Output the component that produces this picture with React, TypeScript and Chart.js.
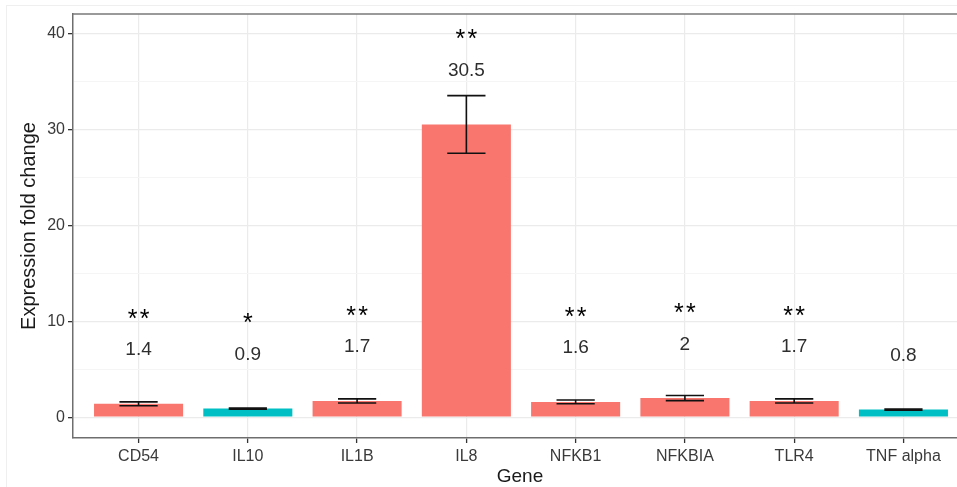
import React, { useEffect, useRef } from "react";
import { Chart, registerables } from "chart.js";

Chart.register(...registerables);

// ---- data ----
const genes = ["CD54", "IL10", "IL1B", "IL8", "NFKB1", "NFKBIA", "TLR4", "TNF alpha"];
const foldChange = [1.4, 0.9, 1.7, 30.5, 1.6, 2.0, 1.7, 0.8];
const errorSD = [0.2, 0.05, 0.22, 3.0, 0.2, 0.27, 0.22, 0.06];
const valueLabels = ["1.4", "0.9", "1.7", "30.5", "1.6", "2", "1.7", "0.8"];
const significance = ["**", "*", "**", "**", "**", "**", "**", ""];
const regulation = ["up", "down", "up", "up", "up", "up", "up", "down"];
const yTickValues = [0, 5, 10, 15, 20, 25, 30, 35, 40];

// ---- style ----
const UP_COLOR = "#F8766D";
const DOWN_COLOR = "#00BFC4";
const FONT = "'Liberation Sans', Arial, sans-serif";
const LABEL_OFFSET = 5.6; // value units above the mean
const STAR_OFFSET = 9.5;
const STAR_GAP = 12; // px between star centres

const CANVAS_W = 990;
const CANVAS_H = 487;

export default function App() {
  const ref = useRef<HTMLCanvasElement | null>(null);

  useEffect(() => {
    const canvas = ref.current;
    if (!canvas) return;

    const overlay = {
      id: "overlay",
      beforeDraw(chart: any) {
        const { ctx } = chart;
        ctx.save();
        ctx.fillStyle = "#ffffff";
        ctx.fillRect(0, 0, chart.width, chart.height);
        ctx.strokeStyle = "#efefef";
        ctx.lineWidth = 1;
        ctx.beginPath();
        ctx.moveTo(6.5, 5);
        ctx.lineTo(6.5, chart.height);
        ctx.moveTo(6, 5.5);
        ctx.lineTo(chart.width, 5.5);
        ctx.stroke();
        ctx.restore();
      },
      afterDatasetsDraw(chart: any) {
        const { ctx, chartArea } = chart;
        const x = chart.scales.x;
        const y = chart.scales.y;
        const step = x.getPixelForValue(1) - x.getPixelForValue(0);
        const capHalf = step * 0.175;
        ctx.save();
        // error bars
        ctx.strokeStyle = "#111111";
        ctx.lineWidth = 1.6;
        foldChange.forEach((v, i) => {
          const px = x.getPixelForValue(i);
          const top = y.getPixelForValue(v + errorSD[i]);
          const bot = y.getPixelForValue(v - errorSD[i]);
          ctx.beginPath();
          ctx.moveTo(px, top);
          ctx.lineTo(px, bot);
          ctx.moveTo(px - capHalf, top);
          ctx.lineTo(px + capHalf, top);
          ctx.moveTo(px - capHalf, bot);
          ctx.lineTo(px + capHalf, bot);
          ctx.stroke();
        });
        // value labels
        ctx.fillStyle = "#2e2e2e";
        ctx.font = `19px ${FONT}`;
        ctx.textAlign = "center";
        ctx.textBaseline = "middle";
        foldChange.forEach((v, i) => {
          ctx.fillText(valueLabels[i], x.getPixelForValue(i), y.getPixelForValue(v + LABEL_OFFSET));
        });
        // significance stars (each star drawn separately, spaced like the original)
        ctx.fillStyle = "#000000";
        ctx.font = `25px ${FONT}`;
        ctx.textBaseline = "alphabetic";
        foldChange.forEach((v, i) => {
          const s = significance[i];
          if (!s) return;
          const cx = x.getPixelForValue(i);
          const cy = y.getPixelForValue(v + STAR_OFFSET) + 14;
          const n = s.length;
          for (let k = 0; k < n; k++) {
            const dx = (k - (n - 1) / 2) * STAR_GAP;
            ctx.fillText("*", cx + dx, cy);
          }
        });
        // top/right panel border
        ctx.strokeStyle = "#7a7a7a";
        ctx.lineWidth = 1.5;
        ctx.beginPath();
        ctx.moveTo(chartArea.left, chartArea.top);
        ctx.lineTo(chartArea.right, chartArea.top);
        ctx.lineTo(chartArea.right, chartArea.bottom);
        ctx.stroke();
        // axis titles
        ctx.fillStyle = "#1a1a1a";
        ctx.font = `19px ${FONT}`;
        ctx.textAlign = "center";
        ctx.textBaseline = "middle";
        ctx.fillText("Gene", (chartArea.left + chartArea.right) / 2 - 1, 477);
        ctx.font = `20px ${FONT}`;
        ctx.translate(29, (chartArea.top + chartArea.bottom) / 2);
        ctx.rotate(-Math.PI / 2);
        ctx.fillText("Expression fold change", 0, 0);
        ctx.restore();
      },
    };

    const chart = new Chart(canvas, {
      type: "bar",
      data: {
        datasets: [
          {
            data: foldChange.map((v, i) => ({ x: i, y: v })),
            backgroundColor: regulation.map((r) => (r === "up" ? UP_COLOR : DOWN_COLOR)),
            borderWidth: 0,
            barPercentage: 0.815,
            categoryPercentage: 1,
          },
        ],
      },
      options: {
        responsive: false,
        animation: false,
        layout: { padding: { top: 14, right: CANVAS_W - 969, left: 0, bottom: 0 } },
        plugins: { legend: { display: false }, tooltip: { enabled: false } },
        scales: {
          x: {
            type: "linear",
            min: -0.6,
            max: genes.length - 0.4,
            offset: false,
            afterBuildTicks: (scale: any) => {
              scale.ticks = genes.map((_, i) => ({ value: i }));
            },
            afterFit: (scale: any) => {
              scale.height = CANVAS_H - 438;
            },
            ticks: {
              callback: (value: any) => genes[Math.round(Number(value))] ?? "",
              color: "#3a3a3a",
              font: { family: FONT, size: 16 },
              padding: 4,
              maxRotation: 0,
              autoSkip: false,
            },
            grid: {
              offset: false,
              color: "#ebebeb",
              lineWidth: 1.2,
              drawTicks: true,
              tickLength: 5,
              tickColor: "#333333",
              tickWidth: 1.3,
            },
            border: { display: true, color: "#6e6e6e", width: 1.5 },
          },
          y: {
            type: "linear",
            min: -2.16,
            max: 42.0,
            afterBuildTicks: (scale: any) => {
              scale.ticks = yTickValues.map((v) => ({ value: v }));
            },
            afterFit: (scale: any) => {
              scale.width = 73;
            },
            ticks: {
              callback: (value: any) => (Number(value) % 10 === 0 ? String(value) : ""),
              color: "#3a3a3a",
              font: { family: FONT, size: 16 },
              padding: 3,
            },
            grid: {
              color: (c: any) => (c.tick && c.tick.value % 10 === 0 ? "#ebebeb" : "#f5f5f5"),
              lineWidth: (c: any) => (c.tick && c.tick.value % 10 === 0 ? 1.3 : 1),
              drawTicks: true,
              tickLength: 5,
              tickColor: (c: any) => (c.tick && c.tick.value % 10 === 0 ? "#333333" : "rgba(0,0,0,0)"),
              tickWidth: 1.3,
            },
            border: { display: true, color: "#6e6e6e", width: 1.5 },
          },
        },
      },
      plugins: [overlay],
    });

    return () => chart.destroy();
  }, []);

  return (
    <div
      style={{
        position: "fixed",
        left: 0,
        top: 0,
        width: 957,
        height: 487,
        overflow: "hidden",
        background: "#ffffff",
      }}
    >
      <canvas ref={ref} width={CANVAS_W} height={CANVAS_H} style={{ display: "block" }} />
    </div>
  );
}
